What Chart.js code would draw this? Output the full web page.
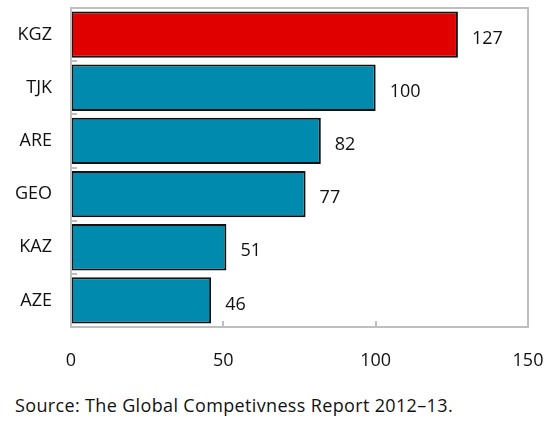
<!DOCTYPE html>
<html>
<head>
<meta charset="utf-8">
<script src="https://cdn.jsdelivr.net/npm/chart.js@4"></script>
<style>
  body { margin: 0; background: #fff; }
  #wrap { position: relative; width: 552px; height: 380px; }
  #source {
    position: absolute; left: 15px; top: 393px;
    font-family: "Open Sans", "Noto Sans", sans-serif; font-size: 18px; color: #111;
    letter-spacing: 0.35px; white-space: nowrap;
  }
</style>
</head>
<body>
<div id="wrap"><canvas id="myChart" width="552" height="380"></canvas></div>
<div id="source">Source: The Global Competivness Report 2012–13.</div>
<script>
const countries = ["KGZ", "TJK", "ARE", "GEO", "KAZ", "AZE"];
const ranks = [127, 100, 82, 77, 51, 46];
const barColors = ["#E00000", "#008BAE", "#008BAE", "#008BAE", "#008BAE", "#008BAE"];
const xTicks = [0, 50, 100, 150];

const fontFamily = '"Open Sans", "Noto Sans", sans-serif';

// frame, inward ticks and value labels
const extras = {
  id: "extras",
  afterDatasetsDraw(chart) {
    const ctx = chart.ctx;
    const a = chart.chartArea;
    const xs = chart.scales.x;
    ctx.save();
    ctx.strokeStyle = "#BFBFBF";
    ctx.lineWidth = 2;
    ctx.strokeRect(a.left, a.top, a.right - a.left, a.bottom - a.top);
    ctx.beginPath();
    xTicks.slice(1, -1).forEach(v => {
      const px = Math.round(xs.getPixelForValue(v));
      ctx.moveTo(px, a.bottom);
      ctx.lineTo(px, a.bottom - 6);
    });
    const step = (a.bottom - a.top) / countries.length;
    for (let i = 1; i < countries.length; i++) {
      const py = Math.round(a.top + i * step);
      ctx.moveTo(a.left, py);
      ctx.lineTo(a.left + 6, py);
    }
    ctx.stroke();

    ctx.fillStyle = "#111";
    ctx.font = "18px " + fontFamily;
    ctx.textBaseline = "middle";
    chart.getDatasetMeta(0).data.forEach((bar, i) => {
      ctx.fillText(String(ranks[i]), bar.x + 14, bar.y + 4);
    });
    ctx.restore();
  }
};

new Chart(document.getElementById("myChart"), {
  type: "bar",
  data: {
    labels: countries,
    datasets: [{
      data: ranks,
      backgroundColor: barColors,
      borderColor: "#111",
      borderWidth: 2,
      borderSkipped: false,
      categoryPercentage: 1,
      barPercentage: 0.87
    }]
  },
  options: {
    indexAxis: "y",
    responsive: false,
    animation: false,
    layout: { padding: { top: 8, right: 24, left: 0, bottom: 0 } },
    plugins: { legend: { display: false }, tooltip: { enabled: false } },
    scales: {
      x: {
        min: 0, max: 150,
        border: { display: false },
        grid: { display: false, drawTicks: false },
        ticks: {
          stepSize: 50, padding: 23, color: "#111",
          font: { family: fontFamily, size: 18 }
        },
        afterFit(scale) {
          scale.height = 53;
          scale.paddingLeft = 0;
          scale.paddingRight = 0;
        }
      },
      y: {
        border: { display: false },
        grid: { display: false, drawTicks: false },
        ticks: {
          padding: 19, color: "#111",
          font: { family: fontFamily, size: 18 }
        },
        afterFit(scale) {
          scale.width = 71;
          scale.paddingTop = 0;
          scale.paddingBottom = 0;
        }
      }
    }
  },
  plugins: [extras]
});
</script>
</body>
</html>
